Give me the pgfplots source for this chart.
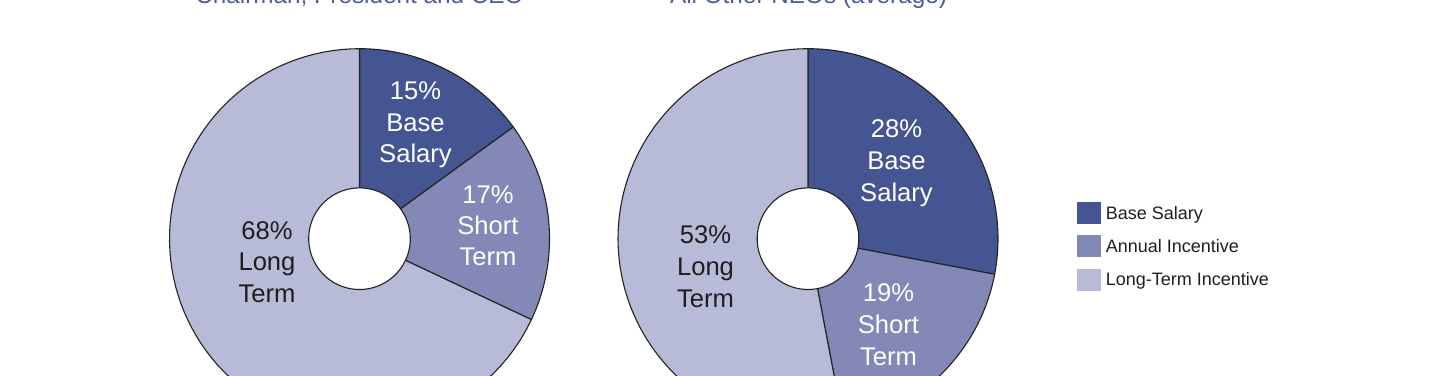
\documentclass[border=0pt]{standalone}
\usepackage{pgfplots}
\pgfplotsset{compat=1.18}
\usepackage{fontspec}
\setmainfont{Liberation Sans}
\definecolor{cBase}{HTML}{445592}
\definecolor{cAnn}{HTML}{8388B6}
\definecolor{cLong}{HTML}{B8BBD7}
\definecolor{cTitle}{HTML}{4D5D9C}
\definecolor{cEdge}{HTML}{222222}
\definecolor{cText}{HTML}{1E1E1E}

% one wedge: centre x, centre y, cumulative start %, cumulative end %, colour
\newcommand{\wedgeplot}[5]{%
  \pgfmathsetmacro{\aS}{90-3.6*(#4)}%
  \pgfmathsetmacro{\aE}{90-3.6*(#3)}%
  \edef\doplot{\noexpand\addplot[fill=#5, draw=cEdge, line width=1.1pt,
      domain=\aS:\aE, samples=90, variable=\noexpand\t, forget plot]}%
  \doplot ({#1+190*cos(\t)},{#2+190*sin(\t)}) -- (axis cs:#1,#2) -- cycle;
}
% donut: centre x, centre y, base %, annual %, long-term %
\newcommand{\donut}[5]{%
  \pgfmathsetmacro{\cumA}{#3}%
  \pgfmathsetmacro{\cumB}{#3+#4}%
  \pgfmathsetmacro{\cumC}{#3+#4+#5}%
  \wedgeplot{#1}{#2}{0}{\cumA}{cBase}
  \wedgeplot{#1}{#2}{\cumA}{\cumB}{cAnn}
  \wedgeplot{#1}{#2}{\cumB}{\cumC}{cLong}
  \addplot[fill=white, draw=cEdge, line width=1.1pt, domain=0:360, samples=120,
      variable=\t, forget plot] ({#1+50.8*cos(\t)},{#2+50.8*sin(\t)}) -- cycle;
}
\newcommand{\lab}{\fontsize{25.6}{31}\selectfont}
% label: x, three baselines, colour, three lines
\newcommand{\plab}[7]{%
  \node[anchor=base, inner sep=0pt, text=#4, font=\lab] at (axis cs:#1,#2) {#5};
  \node[anchor=base, inner sep=0pt, text=#4, font=\lab] at (axis cs:#1,#3) {#6};
  \node[anchor=base, inner sep=0pt, text=#4, font=\lab] at (axis cs:#1,{#3-31.7}) {#7};
}

\begin{document}
\begin{tikzpicture}
\path[use as bounding box, clip] (0,0) rectangle (1440pt,375pt);
\begin{axis}[
  at={(0,0)}, anchor=south west,
  width=1440pt, height=375pt, scale only axis,
  xmin=0, xmax=1440, ymin=0, ymax=375,
  hide axis, clip=true,
  legend style={at={(axis cs:1077,181.7)}, anchor=north west, draw=none, fill=none,
    inner sep=0pt, outer sep=0pt, row sep=1.3pt,
    font=\fontsize{18}{21}\selectfont, text=cText,
    nodes={inner sep=0pt}},
  legend cell align=left,
  /tikz/every odd column/.append style={column sep=4.8pt},
  legend image code/.code={%
    \path[draw=none, fill=none] (0pt,-12pt) rectangle (24pt,20pt);
    \fill[#1, draw=none] (0pt,-10.7pt) rectangle (24pt,11.3pt);},
]
% Chairman, President and CEO: 15 / 17 / 68
\donut{359.5}{136.3}{15}{17}{68}
% All Other NEOs (average): 28 / 19 / 53
\donut{808}{136.3}{28}{19}{53}

\addlegendimage{fill=cBase, draw=none}
\addlegendentry{Base Salary}
\addlegendimage{fill=cAnn, draw=none}
\addlegendentry{Annual Incentive}
\addlegendimage{fill=cLong, draw=none}
\addlegendentry{Long-Term Incentive}

\node[anchor=base, inner sep=0pt, text=cTitle, font=\fontsize{24.3}{29}\selectfont]
  at (axis cs:359.5,371.5) {Chairman, President and CEO};
\node[anchor=base, inner sep=0pt, text=cTitle, font=\fontsize{24.3}{29}\selectfont]
  at (axis cs:808.5,371.5) {All Other NEOs (average)};

\plab{415.5}{275.7}{243.8}{white}{15\%}{Base}{Salary}
\plab{488}{171.7}{140.7}{white}{17\%}{Short}{Term}
\plab{267}{135.7}{104}{cText}{68\%}{Long}{Term}
\plab{896.5}{237.3}{205}{white}{28\%}{Base}{Salary}
\plab{888.5}{73.3}{41.7}{white}{19\%}{Short}{Term}
\plab{705.5}{131.7}{99.3}{cText}{53\%}{Long}{Term}
\end{axis}
\end{tikzpicture}
\end{document}
